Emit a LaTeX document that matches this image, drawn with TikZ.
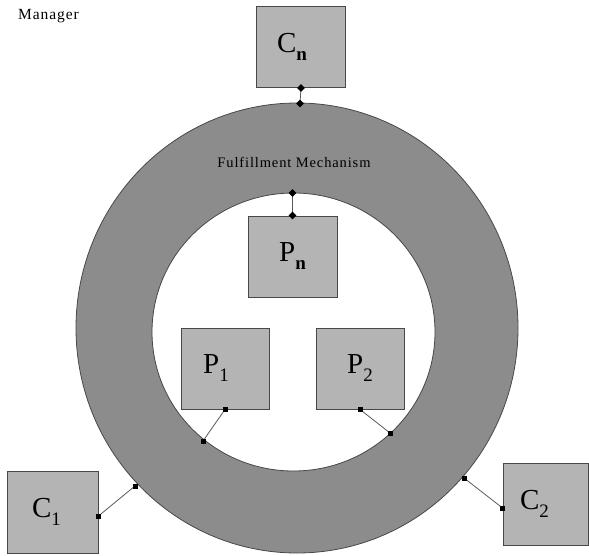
\documentclass[tikz,border=0pt]{standalone}
\usepackage{fontspec}
\setmainfont{Liberation Serif}
\usepackage{tikz}
\usetikzlibrary{positioning}
\definecolor{ringGray}{RGB}{140,140,140}
\definecolor{boxGray}{RGB}{180,180,180}
\definecolor{edgeGray}{RGB}{72,72,72}
\definecolor{wireGray}{RGB}{90,90,90}
% label with a lowered index, as in the boxes
\newcommand{\boxlab}[2]{#1\raisebox{-8pt}{\fontsize{19}{19}\selectfont #2}}

\begin{document}
\begin{tikzpicture}[x=1pt,y=-1pt,
    part/.style={draw=edgeGray,fill=boxGray,line width=0.9pt,inner sep=0pt,
      minimum width=89pt,minimum height=81pt,font=\fontsize{29}{30}\selectfont},
    link/.style={draw=wireGray,line width=0.8pt},
    sqmark/.style={rectangle,fill=black,inner sep=0pt,minimum size=5pt},
    dmmark/.style={sqmark,rotate=45,minimum size=5.5pt},
    caption/.style={font=\fontsize{14.5}{16}\selectfont,inner sep=0pt}
  ]
  \useasboundingbox (0,0) rectangle (589,556);
  % the ring of the fulfillment mechanism
  \draw[fill=ringGray,draw=edgeGray,line width=0.8pt,even odd rule]
    (297,328) ellipse [x radius=221,y radius=225]
    (293.5,332) ellipse [x radius=141.5,y radius=139];

  \node[caption,anchor=base west,font=\fontsize{15.5}{17}\selectfont] (mgr) at (18,20)
    {\addfontfeature{LetterSpace=6}Manager};
  \node[caption,anchor=base] (fm) at (294,168)
    {\addfontfeature{LetterSpace=6}Fulfillment Mechanism};

  \node[part] (cn) at (301,47) {\boxlab{C}{\textbf{n}}\hspace*{18pt}};
  \node[part] (pn) at (292.5,256.5) {\boxlab{P}{\textbf{n}}};
  \node[part,minimum width=88pt] (p1) at (225,368.5) {\boxlab{P}{1}\hspace*{18pt}};
  \node[part,minimum width=88pt] (p2) at (360,368.5) {\boxlab{P}{2}};
  \node[part,minimum width=91pt,minimum height=82pt] (c1) at (52.5,512) {\boxlab{C}{1}\hspace*{12pt}};
  \node[part,minimum width=85pt,minimum height=82pt] (c2) at (545.5,504) {\boxlab{C}{2}\hspace*{22pt}};

  % points where the links meet the ring
  \coordinate (cnRing) at (300,103.5);
  \coordinate (pnRing) at (292.5,193);
  \coordinate (p1Ring) at (203,441);
  \coordinate (p2Ring) at (390,433);
  \coordinate (c1Ring) at (135,486);
  \coordinate (c2Ring) at (464,478);

  \draw[link] (cn.south) node[dmmark]{} -- (cnRing) node[dmmark]{};
  \draw[link] (pn.north) node[dmmark]{} -- (pnRing) node[dmmark]{};
  \draw[link] (p1.south) node[sqmark]{} -- (p1Ring) node[sqmark]{};
  \draw[link] (p2.south) node[sqmark]{} -- (p2Ring) node[sqmark]{};
  \draw[link] ([yshift=-4pt]c1.east) node[sqmark]{} -- (c1Ring) node[sqmark]{};
  \draw[link] ([yshift=-4pt]c2.west) node[sqmark]{} -- (c2Ring) node[sqmark]{};
\end{tikzpicture}
\end{document}
